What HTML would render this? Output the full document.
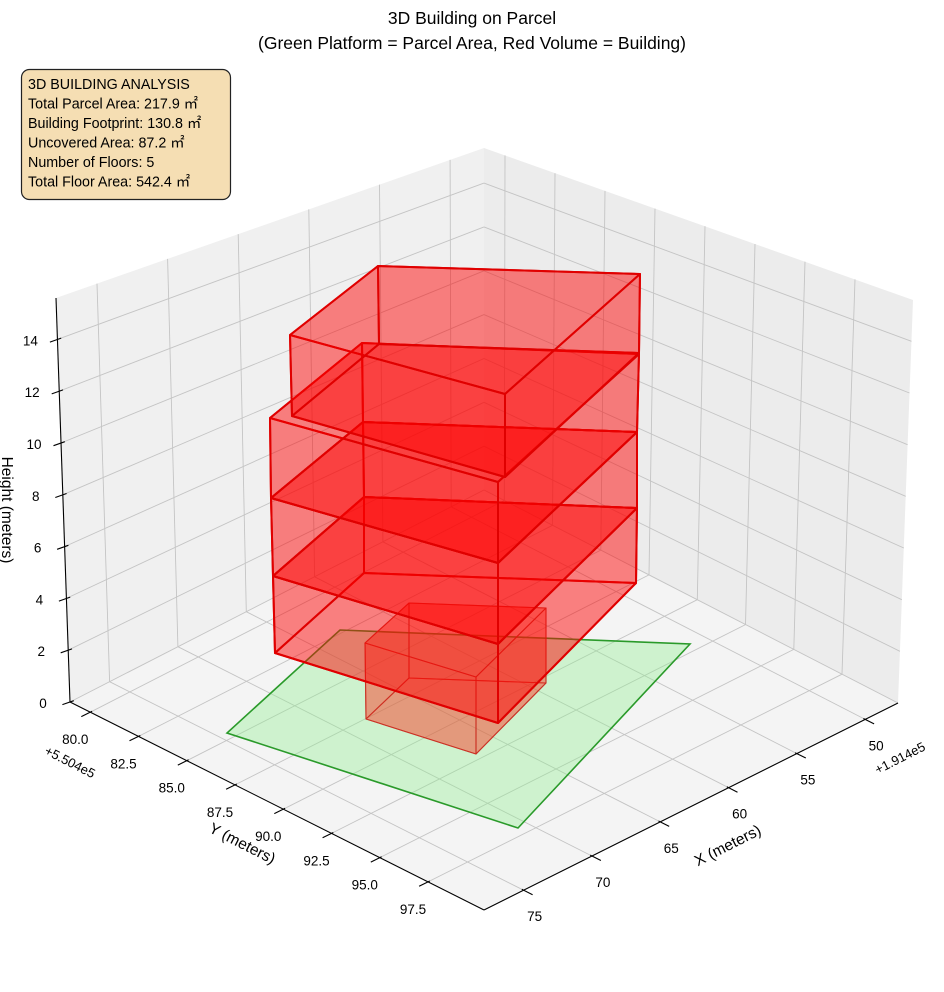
<!DOCTYPE html>
<html><head><meta charset="utf-8">
<style>
html,body{margin:0;padding:0;background:#fff;}
svg{display:block;font-family:"Liberation Sans","DejaVu Sans",sans-serif;}
</style></head>
<body>
<svg id="s" width="944" height="992" viewBox="0 0 944 992" xmlns="http://www.w3.org/2000/svg">
<rect width="944" height="992" fill="#fff"/>
<g id="panes"></g>
<g id="grid" stroke="#c4c4c4" stroke-width="0.9" fill="none"></g>
<g id="axes" stroke="#000" stroke-width="1.1" fill="none"></g>
<g id="labels" font-size="13.5" fill="#000" text-anchor="middle"></g>
<g id="geo"></g>
<text x="472" y="24" font-size="17.5" text-anchor="middle">3D Building on Parcel</text>
<text x="472" y="49" font-size="17.5" text-anchor="middle">(Green Platform = Parcel Area, Red Volume = Building)</text>
<rect x="21.5" y="69.5" width="209" height="130" rx="8" fill="#f5deb3" stroke="#222" stroke-width="1.2"/>
<g font-size="14.3" fill="#000">
<text x="28" y="89">3D BUILDING ANALYSIS</text>
<text x="28" y="108.5">Total Parcel Area: 217.9 ㎡</text>
<text x="28" y="128">Building Footprint: 130.8 ㎡</text>
<text x="28" y="147.5">Uncovered Area: 87.2 ㎡</text>
<text x="28" y="167">Number of Floors: 5</text>
<text x="28" y="186.5">Total Floor Area: 542.4 ㎡</text>
</g>
<text transform="translate(2,510) rotate(90)" font-size="15.5" text-anchor="middle">Height (meters)</text>
<text transform="translate(240,848) rotate(27)" font-size="15.5" text-anchor="middle">Y (meters)</text>
<text transform="translate(730,850) rotate(-27)" font-size="15.5" text-anchor="middle">X (meters)</text>
<text transform="translate(68,766) rotate(27)" font-size="13" text-anchor="middle">+5.504e5</text>
<text transform="translate(902,762) rotate(-27)" font-size="13" text-anchor="middle">+1.914e5</text>
</svg>
<script>
(function(){
var NS="http://www.w3.org/2000/svg";
var B=[484,490],L=[70,702],R=[898,703],F=[484,910];
var Bt=[484,148],Lt=[56,298],Rt=[913,300],Ft=[484,435];
var X0=47.6,X1=77.9,Y0=78.95,Y1=100.4,Z1=15.6;
function bil(a,b,c,d,u,v,i){return a[i]*(1-u)*(1-v)+b[i]*u*(1-v)+c[i]*(1-u)*v+d[i]*u*v;}
function P(X,Y,Z){var u=(X-X0)/(X1-X0),v=(Y-Y0)/(Y1-Y0),w=Z/Z1;var r=[];
for(var i=0;i<2;i++){var lo=bil(B,L,R,F,u,v,i),hi=bil(Bt,Lt,Rt,Ft,u,v,i);r.push(lo*(1-w)+hi*w);}return r;}
function el(t,a,p){var e=document.createElementNS(NS,t);for(var k in a)e.setAttribute(k,a[k]);p.appendChild(e);return e;}
function pts(a){return a.map(function(p){return p[0].toFixed(1)+","+p[1].toFixed(1)}).join(" ");}
var panes=document.getElementById("panes"),grid=document.getElementById("grid"),axes=document.getElementById("axes"),lab=document.getElementById("labels"),geo=document.getElementById("geo");
el("polygon",{points:pts([P(X0,Y0,0),P(X1,Y0,0),P(X1,Y0,Z1),P(X0,Y0,Z1)]),fill:"#f0f0f0"},panes);
el("polygon",{points:pts([P(X0,Y0,0),P(X0,Y1,0),P(X0,Y1,Z1),P(X0,Y0,Z1)]),fill:"#ececec"},panes);
el("polygon",{points:pts([P(X0,Y0,0),P(X1,Y0,0),P(X1,Y1,0),P(X0,Y1,0)]),fill:"#f4f4f4"},panes);
function line(a,b,p,attr){var o={x1:a[0].toFixed(1),y1:a[1].toFixed(1),x2:b[0].toFixed(1),y2:b[1].toFixed(1)};if(attr)for(var k in attr)o[k]=attr[k];return el("line",o,p);}
var xt=[50,55,60,65,70,75],yt=[80,82.5,85,87.5,90,92.5,95,97.5],zt=[0,2,4,6,8,10,12,14];
xt.forEach(function(x){line(P(x,Y0,0),P(x,Y0,Z1),grid);line(P(x,Y0,0),P(x,Y1,0),grid);});
yt.forEach(function(y){line(P(X0,y,0),P(X0,y,Z1),grid);line(P(X0,y,0),P(X1,y,0),grid);});
zt.forEach(function(z){line(P(X0,Y0,z),P(X1,Y0,z),grid);line(P(X0,Y0,z),P(X0,Y1,z),grid);});
line(P(X1,Y0,0),P(X1,Y1,0),axes);
line(P(X0,Y1,0),P(X1,Y1,0),axes);
line(P(X1,Y0,0),P(X1,Y0,Z1),axes);
function txt(x,y,s){var t=el("text",{x:x.toFixed(1),y:(y+5).toFixed(1)},lab);t.textContent=s;}
zt.forEach(function(z){var a=P(X1,Y0,z),d=[0.944,-0.33];line([a[0]-8*d[0],a[1]-8*d[1]],[a[0]+4*d[0],a[1]+4*d[1]],axes);txt(a[0]-27,a[1]+1,String(z));});
yt.forEach(function(y){var a=P(X1,y,0),d=[-0.897,0.442];line([a[0]+10*d[0],a[1]+10*d[1]],[a[0]-2*d[0],a[1]-2*d[1]],axes);txt(a[0]-15,a[1]+27,y.toFixed(1));});
xt.forEach(function(x){var a=P(x,Y1,0),d=[0.894,0.449];line([a[0]+10*d[0],a[1]+10*d[1]],[a[0]-2*d[0],a[1]-2*d[1]],axes);txt(a[0]+11,a[1]+26,String(x));});
el("polygon",{points:pts([[340,630],[690,644],[518,828],[227,733]]),fill:"rgba(144,238,144,0.38)",stroke:"#2a9a2a","stroke-width":1.6},geo);
function box(bot,top,fillA,stroke,sw){
  var faces=[bot,top];for(var i=0;i<4;i++){var j=(i+1)%4;faces.push([bot[i],bot[j],top[j],top[i]]);}
  faces.forEach(function(f){el("polygon",{points:pts(f),fill:fillA,stroke:stroke,"stroke-width":sw,"stroke-linejoin":"round"},geo);});
}
box([[409,678],[546,683],[476,754],[366,719]],[[409,603],[546,608],[476,677],[365,643]],"rgba(255,40,20,0.25)","rgba(200,40,30,0.75)",1.1);
var lv=[
 [[364,573],[636,583],[498,723],[275,653]],
 [[364,497],[637,508],[498,644],[273,576]],
 [[363,422],[637,432],[498,563],[271,498]],
 [[362,343],[639,354],[498,482],[270,418]]];
for(var k=0;k<3;k++)box(lv[k],lv[k+1],"rgba(255,0,0,0.28)","#e00000",2);
box([[379,344],[639,353],[505,477],[292,416]],[[378,266],[640,274],[505,394],[290,335]],"rgba(255,0,0,0.28)","#e00000",2);
})();
</script>
</body></html>
